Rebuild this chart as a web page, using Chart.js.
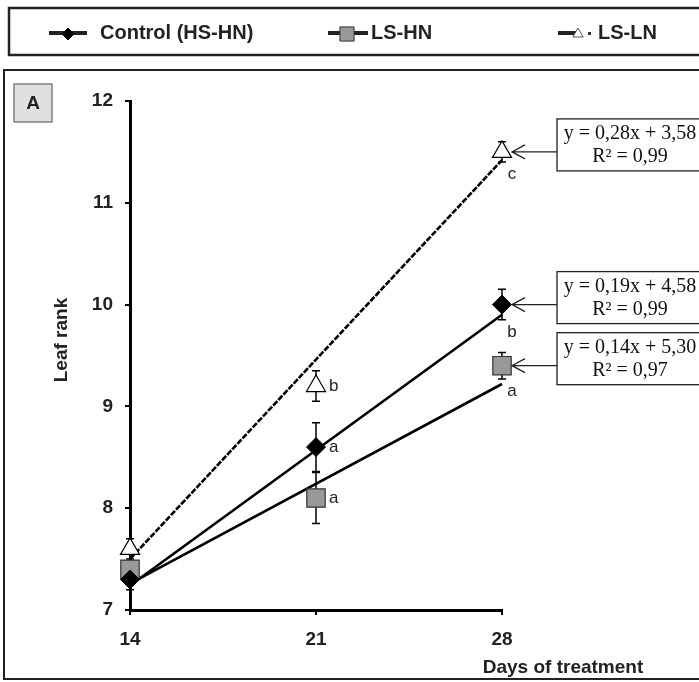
<!DOCTYPE html>
<html>
<head>
<meta charset="utf-8">
<script src="https://cdn.jsdelivr.net/npm/chart.js@4/dist/chart.umd.min.js"></script>
<style>
  body { margin: 0; background: #fff; }
  #wrap { width: 699px; height: 682px; }
</style>
</head>
<body>
<div id="wrap"><canvas id="leafChart" width="699" height="682"></canvas></div>
<script>
const days = [14, 21, 28]
const seriesNames = ['Control (HS-HN)', 'LS-HN', 'LS-LN']
const controlRank = [7.3, 8.6, 10.0]
const lshnRank = [7.4, 8.1, 9.4]
const lslnRank = [7.6, 9.2, 11.5]
const controlErr = [0.1, 0.24, 0.15]
const lshnErr = [0.08, 0.25, 0.13]
const lslnErr = [0.1, 0.15, 0.1]
const controlLetters = ['', 'a', 'b']
const lshnLetters = ['', 'a', 'a']
const lslnLetters = ['', 'b', 'c']
// trend line values at first and last day
const trendStart = [7.24, 7.26, 7.50]
const trendEnd = [9.90, 9.22, 11.42]
const equations = ['y = 0,19x + 4,58', 'y = 0,14x + 5,30', 'y = 0,28x + 3,58']
const rSquared = ['R² = 0,99', 'R² = 0,97', 'R² = 0,99']
const yTicks = [7, 8, 9, 10, 11, 12]
const xTicks = [14, 21, 28]

const ranks = [controlRank, lshnRank, lslnRank]
const errs = [controlErr, lshnErr, lslnErr]
const letters = [controlLetters, lshnLetters, lslnLetters]

const SANS = '"Liberation Sans", Arial, sans-serif'
const SERIF = '"Liberation Serif", "Times New Roman", serif'

const markers = [
  { pointStyle: 'rectRot', radius: 9.5, bg: '#000', border: '#000', bw: 1 },
  { pointStyle: 'rect', radius: 13, bg: '#999', border: '#333', bw: 1.2 },
  { pointStyle: 'triangle', radius: 11, bg: '#fff', border: '#000', bw: 1.2 }
]

const pts = (ys) => days.map((d, i) => ({ x: d, y: ys[i] }))

const datasets = []
ranks.forEach((r, i) => {
  datasets.push({
    label: seriesNames[i],
    data: pts(r),
    showLine: false,
    clip: false,
    pointStyle: markers[i].pointStyle,
    pointRadius: markers[i].radius,
    pointBackgroundColor: markers[i].bg,
    pointBorderColor: markers[i].border,
    pointBorderWidth: markers[i].bw
  })
})
ranks.forEach((r, i) => {
  datasets.push({
    label: seriesNames[i] + ' trend',
    data: [{ x: days[0], y: trendStart[i] }, { x: days[days.length - 1], y: trendEnd[i] }],
    showLine: true,
    clip: false,
    pointRadius: 0,
    borderColor: '#000',
    borderWidth: 2.6,
    borderDash: i === 2 ? [6, 1.5] : []
  })
})

const decor = {
  id: 'decor',
  beforeDraw (chart) {
    const ctx = chart.ctx
    ctx.save()
    ctx.fillStyle = '#fff'
    ctx.fillRect(0, 0, chart.width, chart.height)
    // legend frame
    ctx.strokeStyle = '#222'
    ctx.lineWidth = 2.5
    ctx.strokeRect(9, 8, 720, 47)
    // panel frame
    ctx.lineWidth = 2
    ctx.strokeRect(4, 70, 720, 609)
    // panel letter
    ctx.fillStyle = '#e0e0e0'
    ctx.fillRect(14, 84, 38, 38)
    ctx.strokeStyle = '#666'
    ctx.lineWidth = 1.2
    ctx.strokeRect(14, 84, 38, 38)
    ctx.fillStyle = '#222'
    ctx.font = 'bold 19px ' + SANS
    ctx.textAlign = 'center'
    ctx.textBaseline = 'middle'
    ctx.fillText('A', 33, 104)

    // legend entries
    const leg = [
      { x0: 49, x1: 87, mx: 68, r: 6, tx: 100 },
      { x0: 328, x1: 368, mx: 347, r: 10, tx: 371 },
      { x0: 558, x1: 576, mx: 578, r: 6, tx: 598 }
    ]
    leg.forEach((l, i) => {
      ctx.strokeStyle = '#222'
      ctx.lineWidth = 4
      ctx.beginPath()
      ctx.moveTo(l.x0, 33)
      ctx.lineTo(l.x1, 33)
      ctx.stroke()
      ctx.fillStyle = markers[i].bg
      ctx.strokeStyle = i === 2 ? '#555' : markers[i].border
      ctx.lineWidth = 1
      Chart.helpers.drawPoint(ctx, { pointStyle: markers[i].pointStyle, radius: l.r, rotation: 0, borderWidth: 1 }, l.mx, 34)
      ctx.fillStyle = '#222'
      ctx.font = 'bold 20px ' + SANS
      ctx.textAlign = 'left'
      ctx.fillText(seriesNames[i], l.tx, 33)
    })
    ctx.fillStyle = '#333'
    ctx.fillRect(588, 32, 3, 3)

    // axis titles
    ctx.fillStyle = '#222'
    ctx.font = 'bold 19px ' + SANS
    ctx.textAlign = 'center'
    ctx.fillText('Days of treatment', 563, 668)
    ctx.translate(62, 340)
    ctx.rotate(-Math.PI / 2)
    ctx.fillText('Leaf rank', 0, 0)
    ctx.restore()
  },
  beforeDatasetsDraw (chart) {
    const ctx = chart.ctx
    const xs = chart.scales.x
    const ys = chart.scales.y
    ctx.save()
    ctx.strokeStyle = '#000'
    ctx.lineWidth = 1.5
    ranks.forEach((r, i) => {
      days.forEach((d, j) => {
        const px = xs.getPixelForValue(d)
        const top = ys.getPixelForValue(r[j] + errs[i][j])
        const bot = ys.getPixelForValue(r[j] - errs[i][j])
        ctx.beginPath()
        ctx.moveTo(px, top)
        ctx.lineTo(px, bot)
        ctx.moveTo(px - 4, top)
        ctx.lineTo(px + 4, top)
        ctx.moveTo(px - 4, bot)
        ctx.lineTo(px + 4, bot)
        ctx.stroke()
      })
    })
    ctx.restore()
  },
  afterDraw (chart) {
    const ctx = chart.ctx
    const xs = chart.scales.x
    const ys = chart.scales.y
    ctx.save()
    // significance letters
    ctx.fillStyle = '#222'
    ctx.font = '17px ' + SANS
    ctx.textBaseline = 'middle'
    ranks.forEach((r, i) => {
      days.forEach((d, j) => {
        const t = letters[i][j]
        if (!t) return
        const px = xs.getPixelForValue(d)
        if (j === days.length - 1) {
          ctx.textAlign = 'center'
          ctx.fillText(t, px + 10, ys.getPixelForValue(r[j] - errs[i][j]) + 12)
        } else {
          ctx.textAlign = 'left'
          ctx.fillText(t, px + 13, ys.getPixelForValue(r[j]))
        }
      })
    })
    // equation boxes with arrows
    ranks.forEach((r, i) => {
      const last = days.length - 1
      const px = xs.getPixelForValue(days[last])
      const py = ys.getPixelForValue(r[last])
      const top = py - 33
      ctx.fillStyle = '#fff'
      ctx.fillRect(557, top, 170, 52)
      ctx.strokeStyle = '#222'
      ctx.lineWidth = 1.3
      ctx.strokeRect(557, top, 170, 52)
      ctx.beginPath()
      ctx.moveTo(557, py)
      ctx.lineTo(px + 10, py)
      ctx.moveTo(px + 23, py - 7)
      ctx.lineTo(px + 10, py)
      ctx.lineTo(px + 23, py + 7)
      ctx.stroke()
      ctx.fillStyle = '#111'
      ctx.font = '20px ' + SERIF
      ctx.textAlign = 'center'
      ctx.fillText(equations[i], 630, top + 15)
      ctx.fillText(rSquared[i], 630, top + 38)
    })
    ctx.restore()
  }
}

new Chart(document.getElementById('leafChart'), {
  type: 'scatter',
  data: { datasets },
  options: {
    responsive: false,
    animation: false,
    layout: { padding: { left: 0, top: 101, right: 197, bottom: 0 } },
    plugins: { legend: { display: false }, tooltip: { enabled: false } },
    scales: {
      x: {
        type: 'linear',
        min: xTicks[0],
        max: xTicks[xTicks.length - 1],
        afterBuildTicks: (s) => { s.ticks = xTicks.map(v => ({ value: v })) },
        afterFit: (s) => { s.height = 72 },
        grid: { drawOnChartArea: false, drawTicks: true, tickLength: 5, lineWidth: 2, color: '#000' },
        border: { display: true, width: 3, color: '#000' },
        ticks: { color: '#222', padding: 13, font: { family: SANS, size: 19, weight: 'bold' } }
      },
      y: {
        min: yTicks[0],
        max: yTicks[yTicks.length - 1],
        afterBuildTicks: (s) => { s.ticks = yTicks.map(v => ({ value: v })) },
        afterFit: (s) => { s.width = 130 },
        grid: { drawOnChartArea: false, drawTicks: true, tickLength: 5, lineWidth: 2, color: '#000' },
        border: { display: true, width: 3, color: '#000' },
        ticks: { color: '#222', padding: 12, font: { family: SANS, size: 19, weight: 'bold' } }
      }
    }
  },
  plugins: [decor]
})
</script>
</body>
</html>
